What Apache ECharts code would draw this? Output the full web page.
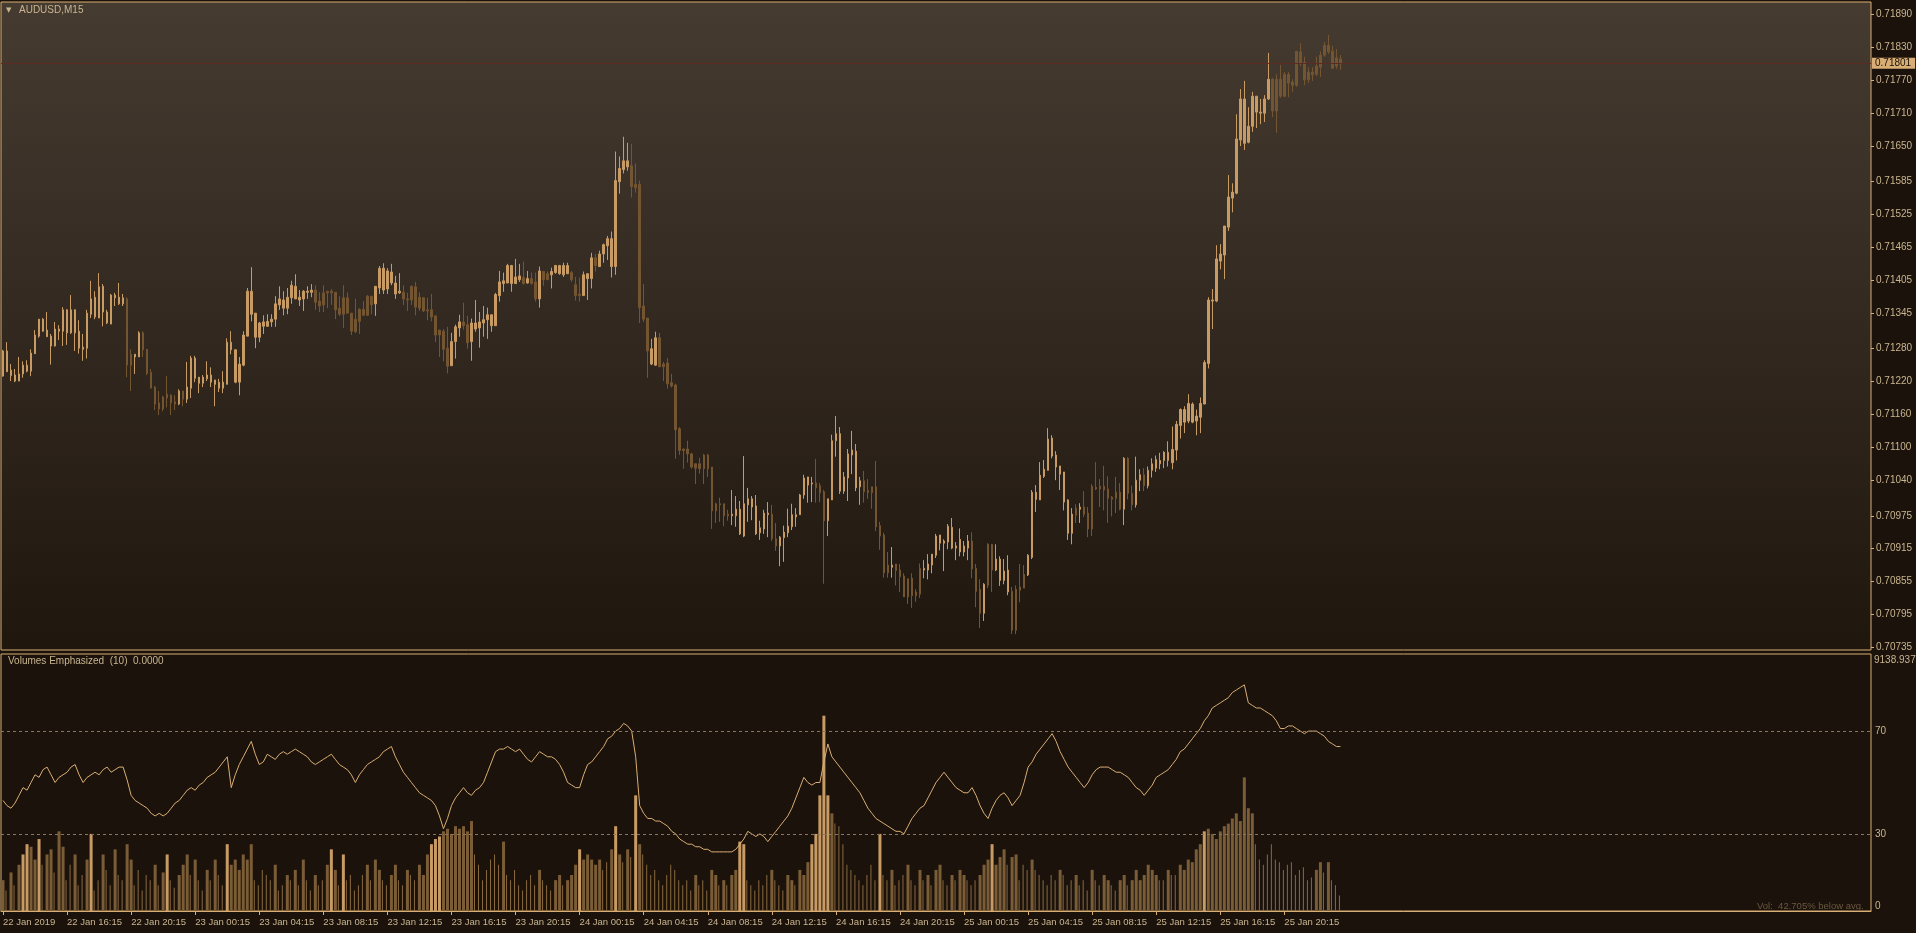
<!DOCTYPE html>
<html><head><meta charset="utf-8">
<script src="https://cdn.jsdelivr.net/npm/echarts@6/dist/echarts.min.js"></script>
<style>html,body{margin:0;padding:0;background:#1b120b;}#c{width:1916px;height:933px;}</style>
</head><body><div id="c"></div>
<script>
const symbolName = 'AUDUSD,M15';
const indicatorTitle = 'Volumes Emphasized  (10)  0.0000';
const volStatus = 'Vol:  42.705% below avg.';
const volTopLabel = '9138.9375';
const tickLabels = ['22 Jan 2019','22 Jan 16:15','22 Jan 20:15','23 Jan 00:15','23 Jan 04:15','23 Jan 08:15','23 Jan 12:15','23 Jan 16:15','23 Jan 20:15','24 Jan 00:15','24 Jan 04:15','24 Jan 08:15','24 Jan 12:15','24 Jan 16:15','24 Jan 20:15','25 Jan 00:15','25 Jan 04:15','25 Jan 08:15','25 Jan 12:15','25 Jan 16:15','25 Jan 20:15'];
const barsPerTick = 16;
const priceTicks = [0.70735,0.70795,0.70855,0.70915,0.70975,0.71040,0.71100,0.71160,0.71220,0.71280,0.71345,0.71405,0.71465,0.71525,0.71585,0.71650,0.71710,0.71770,0.71830,0.71890];
const bidPrice = 0.71801;
const volLevels = [30, 70];
const volTicks = [0, 30, 70];
// prices in 1e-5 units (points)
const open = [
71230,71238,71231,71221,71221,71234,71239,71239,71271,71303,71312,71302,71285,71285,71312,71312,71309,71309,71309,71281,
71279,71281,71343,71338,71336,71347,71327,71325,71373,71362,71362,71371,71270,71265,71265,71309,71279,71237,71210,71181,
71192,71197,71195,71183,71179,71203,71188,71208,71226,71217,71217,71225,71219,71215,71208,71208,71215,71278,71219,71219,
71250,71303,71343,71301,71301,71321,71321,71329,71334,71360,71354,71354,71373,71371,71369,71371,71383,71383,71387,71367,
71382,71385,71385,71383,71354,71373,71373,71345,71334,71352,71352,71376,71376,71362,71391,71387,71389,71400,71380,71382,
71383,71371,71394,71393,71374,71373,71351,71351,71340,71314,71312,71281,
71249,71293,71318,71329,71324,71293,71316,71318,71327,71333,71322,71322,71377,71399,71400,71399,71399,71406,71410,71400,
71408,71402,71371,71421,71417,71415,71419,71417,71415,71417,71419,71397,71380,71377,71408,71408,71446,71430,71453,71468,
71430,71430,71585,71607,71612,71614,71580,71580,71358,71336,71252,71250,71300,71252,71254,71218,71214,71134,71097,71097,
71088,71070,71070,71086,71086,71064,70997,70997,70997,70978,70975,70975,70942,70938,70995,70991,70942,70944,70951,70977,
70978,70933,70920,70935,70944,70955,70973,70977,71013,71031,71033,71035,71030,71019,70966,71004,71112,71020,71020,71044,
71086,71026,71028,71039,71021,71028,71028,70957,70940,70885,70881,
70887,70876,70865,70860,70861,70836,70879,70876,70876,70885,70903,70925,70925,70927,70916,70916,70909,70909,70916,70929,
70879,70841,70797,70923,70923,70876,70857,70857,70836,70837,70841,70845,70868,70867,70899,71005,71004,71047,71058,71084,
71064,71051,71000,70943,70943,70989,70987,70991,70980,71029,71027,71029,71029,71024,71009,71018,71018,70987,71080,
71016,70995,71040,71050,71030,71058,71062,71070,
71076,71076,71072,71095,71140,71146,71148,71146,71148,71155,71179,71253,71367,71367,71440,71451,71502,71555,71564,71661,
71655,71657,71686,71712,71710,71710,71736,71772,71772,71772,71781,71781,71767,71823,71822,71803,71785,71785,71796,71816,
71834,71834,71823,71811,71809];
const high = [
71278,71292,71252,71243,71265,71257,71259,71279,71314,71334,71336,71347,71307,71329,71323,71356,71352,71378,71352,71332,
71307,71351,71404,71385,71418,71398,71351,71380,71382,71400,71380,71374,71279,71270,71312,71312,71279,71243,71212,71203,
71194,71230,71197,71195,71206,71203,71256,71267,71267,71228,71232,71257,71246,71223,71225,71239,71299,71312,71279,71265,
71312,71391,71429,71345,71329,71341,71343,71343,71376,71394,71385,71391,71404,71416,71387,71387,71394,71398,71396,71383,
71396,71385,71389,71383,71376,71396,71383,71345,71371,71354,71367,71378,71376,71394,71431,71436,71427,71435,71413,71418,
71396,71382,71396,71402,71383,71374,71373,71380,71340,71314,71316,71320,
71309,71324,71342,71364,71340,71335,71369,71347,71358,71355,71342,71382,71422,71419,71435,71433,71444,71435,71439,71422,
71419,71419,71430,71422,71421,71428,71433,71433,71437,71437,71422,71411,71410,71421,71417,71455,71453,71459,71472,71486,
71494,71640,71631,71667,71656,71654,71618,71587,71398,71336,71298,71311,71309,71256,71263,71234,71216,71137,71097,71112,
71090,71070,71081,71088,71088,71064,70999,71008,70997,70986,71022,71011,71002,71084,71026,71011,71013,70966,70986,71000,
70995,70962,70938,70957,70988,70997,70989,71015,71050,71046,71046,71079,71035,71022,71006,71123,71157,71137,71055,71097,
71130,71106,71046,71057,71042,71028,71075,70964,70944,70909,70918,
70887,70887,70870,70860,70870,70841,70888,70894,70905,70905,70942,70940,70932,70960,70971,70927,70952,70929,70940,70945,
70887,70859,70852,70925,70923,70923,70901,70896,70903,70845,70848,70887,70885,70905,71022,71031,71073,71077,71135,71122,
71093,71066,71055,71005,70989,70996,70998,71020,70991,71033,71073,71042,71066,71047,71011,71046,71035,71082,
71082,71030,71083,71060,71062,71065,71080,71085,71090,
71093,71111,71138,71148,71171,71175,71197,71182,71169,71191,71259,71374,71389,71469,71471,71504,71597,71582,71708,71754,
71769,71721,71749,71741,71736,71743,71820,71774,71781,71798,71785,71785,71772,71823,71838,71813,71794,71794,71813,71823,
71840,71853,71833,71827,71816];
const low = [
71229,71238,71221,71219,71221,71227,71237,71230,71271,71300,71311,71302,71251,71284,71296,71285,71287,71307,71276,71271,
71258,71262,71336,71334,71336,71321,71325,71325,71358,71360,71358,71228,71203,71234,71265,71265,71232,71208,71168,71159,
71166,71173,71159,71168,71177,71175,71181,71190,71219,71199,71210,71221,71210,71175,71201,71199,71215,71270,71217,71195,
71248,71303,71330,71281,71292,71307,71320,71320,71320,71351,71341,71343,71362,71371,71358,71349,71371,71374,71351,71347,
71347,71354,71360,71334,71340,71318,71345,71305,71309,71307,71341,71341,71343,71340,71380,71380,71380,71396,71371,71380,
71360,71349,71360,71341,71349,71347,71332,71330,71292,71265,71257,71235,
71249,71262,71302,71315,71280,71258,71311,71282,71302,71298,71311,71322,71366,71384,71400,71384,71399,71402,71397,71399,
71397,71366,71355,71395,71406,71390,71417,71415,71411,71417,71402,71368,71366,71377,71369,71390,71421,71430,71437,71442,
71410,71415,71563,71600,71605,71556,71565,71327,71329,71227,71250,71249,71247,71221,71207,71209,71079,71086,71061,71072,
71061,71033,71052,71033,71046,70951,70962,70964,70956,70966,70958,70955,70940,70936,70964,70967,70940,70931,70942,70936,
70929,70911,70883,70891,70936,70949,70955,70977,71006,70999,71000,70999,71000,70851,70938,71004,71083,71015,71015,71002,
71051,71020,70995,70999,71006,70988,70947,70913,70862,70862,70862,
70848,70836,70827,70814,70807,70818,70825,70861,70859,70870,70898,70912,70874,70914,70914,70894,70901,70901,70894,70861,
70808,70770,70783,70843,70836,70874,70847,70850,70830,70759,70759,70817,70843,70865,70896,70982,71004,71044,71058,71080,
71040,71022,70985,70931,70923,70962,70962,70973,70936,70938,71022,70991,70985,70962,70974,70980,70985,70958,
71005,70985,70990,71020,71020,71025,71045,71055,71060,
71062,71065,71060,71076,71116,71126,71144,71144,71122,71126,71179,71244,71316,71365,71425,71407,71495,71529,71562,71650,
71643,71655,71676,71683,71690,71694,71734,71703,71674,71738,71739,71739,71749,71758,71796,71761,71765,71769,71778,71776,
71813,71818,71791,71791,71789];
const close = [
71276,71276,71241,71232,71234,71250,71250,71272,71305,71334,71334,71314,71303,71316,71316,71351,71351,71351,71351,71312,
71283,71345,71371,71374,71393,71394,71347,71378,71378,71374,71373,71250,71250,71270,71309,71278,71235,71208,71179,71170,
71170,71190,71181,71179,71203,71188,71210,71263,71263,71228,71228,71232,71232,71223,71219,71219,71292,71292,71278,71252,
71305,71385,71385,71345,71327,71329,71330,71334,71362,71371,71369,71374,71396,71394,71374,71385,71385,71387,71365,71358,
71360,71382,71382,71351,71343,71343,71345,71312,71311,71330,71341,71341,71360,71394,71427,71427,71422,71420,71400,71385,
71371,71369,71369,71356,71354,71349,71349,71338,71305,71305,71279,71248,
71293,71320,71329,71322,71291,71327,71327,71329,71333,71342,71342,71379,71402,71404,71432,71432,71411,71413,71399,71408,
71399,71371,71422,71406,71406,71421,71432,71432,71432,71432,71406,71377,71377,71415,71417,71446,71432,71453,71470,71481,
71481,71587,71609,71623,71623,71576,71574,71355,71334,71276,71280,71300,71247,71247,71216,71212,71132,71094,71094,71088,
71064,71062,71061,71061,71061,70984,70984,70995,70975,70975,70978,70987,70987,70997,71006,71006,70993,70953,70980,70980,
70933,70920,70936,70945,70956,70977,70977,71013,71044,71046,71035,71026,71017,70966,71006,71112,71125,71125,71046,71088,
71095,71093,71039,71019,71017,71017,70955,70938,70871,70871,70885,
70875,70864,70827,70827,70829,70829,70832,70879,70887,70905,70938,70940,70929,70956,70954,70920,70932,70920,70929,70878,
70837,70797,70850,70848,70876,70896,70896,70874,70876,70766,70766,70839,70843,70903,71018,71018,71049,71060,71115,71117,
71086,71066,71055,71004,70978,70976,70991,70978,70951,70951,71024,71024,71022,71007,71005,71007,70987,71080,
71016,70995,71040,71050,71030,71058,71070,71078,71076,
71091,71091,71096,71142,71169,71169,71180,71179,71157,71180,71255,71369,71369,71444,71453,71504,71557,71566,71663,71736,
71736,71686,71741,71741,71712,71736,71772,71714,71714,71741,71741,71765,71761,71761,71800,71771,71771,71780,71781,71794,
71816,71822,71792,71796,71800];
// indicator pane, scaled 0..100
const volume = [
12,8,15,10,18,22,26,25,20,28, 18,22,24,15,31,25,12,18,22,10, 14,20,30,8,12,22,16,10,24,14,
12,26,20,10,16,8,14,12,18,10, 15,22,12,9,14,18,22,14,20,12, 8,16,12,20,14,10,26,18,20,16,
22,20,26,12,10,16,14,12,18,8, 10,14,12,16,10,20,12,8,14,10, 12,18,24,16,10,22,12,14,8,10,
14,18,12,20,16,12,10,14,18,12, 10,16,14,12,18,14,22,26,28,29, 31,32,30,33,32,33,31,35,22,18,
12,16,20,22,18,27,14,12,16,10, 8,12,14,10,16,12,10,8,12,14, 10,12,14,18,24,20,22,20,18,20,
16,19,24,33,22,19,24,21,45,26, 22,18,14,16,12,10,14,18,16,12, 10,12,8,14,10,12,8,16,14,10,
12,10,14,16,27,26,12,10,8,12, 10,14,16,12,10,8,14,12,10,16, 14,19,26,30,45,76,45,38,34,33,
26,18,16,14,12,10,14,18,12,30, 14,12,16,10,12,14,18,12,10,16, 12,14,10,16,18,12,10,14,12,16,
14,12,10,12,14,18,20,26,18,21, 24,18,21,22,12,18,16,20,16,14, 12,10,14,12,16,14,10,12,14,10,
12,8,16,12,10,14,12,10,8,12, 14,10,12,16,12,14,18,16,14,12, 12,16,14,14,18,16,20,19,24,26,
31,32,30,28,31,33,34,36,38,35, 52,40,38,26,20,18,22,26,20,19, 16,18,19,14,16,17,12,13,16,19,
15,19,12,10,6];
const volumeLine = [
43,41,40,42,45,48,47,50,53,52, 55,56,53,50,52,53,54,56,57,53, 50,52,53,54,53,55,56,54,55,56,
56,51,45,43,42,41,40,38,37,38, 37,38,40,42,43,45,47,48,47,49, 50,52,53,54,56,58,60,48,53,57,
60,63,66,61,57,58,61,60,59,61, 62,61,62,63,62,61,60,58,57,58, 59,60,61,59,57,56,55,53,50,53,
55,57,58,59,60,62,63,64,60,57, 54,52,50,48,46,45,44,43,41,37, 32,36,41,44,46,48,46,45,47,48,
50,54,58,62,63,63,64,63,62,63, 61,59,58,60,62,61,60,60,59,57, 54,50,49,48,48,53,57,58,60,62,
64,67,68,70,71,73,72,70,60,41, 38,36,36,35,35,34,33,31,30,28, 27,26,26,25,25,24,24,23,23,23,
23,23,23,24,26,28,31,30,29,30, 29,27,29,31,33,35,37,40,44,48, 52,50,49,50,50,58,65,60,58,56,
54,52,50,48,46,43,40,38,36,35, 34,33,32,31,31,30,33,36,38,40, 41,44,47,50,52,54,52,50,48,47,
46,46,48,45,41,38,36,40,43,45, 46,44,41,43,45,50,56,58,61,63, 65,67,69,66,62,59,56,54,52,50,
48,50,53,55,56,56,56,55,54,54, 53,52,50,48,47,45,47,49,52,53, 54,55,57,59,62,63,65,67,69,71,
74,76,79,80,81,82,83,85,86,87, 88,81,80,79,79,78,77,76,74,71, 71,72,72,71,70,69,70,70,70,69,
68,66,65,64,64];

const SLOTS = 467;
const slots = []; for (let i = 0; i < SLOTS; i++) slots.push(i);
const candles = open.map((o, i) => [o / 1e5, close[i] / 1e5, low[i] / 1e5, high[i] / 1e5]);

// emphasis rule: compare each volume to the mean of the last 10 bars
const avg10 = volume.map((v, i) => {
  const s = volume.slice(Math.max(0, i - 9), i + 1);
  return s.reduce((a, b) => a + b, 0) / s.length;
});
const wideVol = volume.map((v, i) => (v >= avg10[i] ? v : '-'));
const thinVol = volume.map((v, i) => (v < avg10[i] ? v : '-'));

const FONT = "'Liberation Sans',Arial,sans-serif";
const TXT = '#c9b58f';
const FRAME = '#d9ae74';
const LIGHT = '#c89b64';
const DARK = '#735532';
const tickInt = (idx) => idx % barsPerTick === 0 && idx < open.length;

const chart = echarts.init(document.getElementById('c'), null, {renderer: 'canvas'});
chart.setOption({
  backgroundColor: '#1b120b',
  animation: false,
  grid: [
    {left: 1, top: 2, width: 1870, height: 648, show: true, borderColor: FRAME, borderWidth: 1,
     backgroundColor: new echarts.graphic.LinearGradient(0, 0, 0, 1, [{offset: 0, color: '#453b31'}, {offset: 1, color: '#1f160e'}])},
    {left: 1, top: 654, width: 1870, height: 257, show: true, borderColor: FRAME, borderWidth: 1, backgroundColor: '#1b120b'}
  ],
  xAxis: [
    {type: 'category', gridIndex: 0, data: slots, boundaryGap: true,
     axisLine: {show: false}, axisTick: {show: false}, axisLabel: {show: false}, splitLine: {show: false}},
    {type: 'category', gridIndex: 1, data: slots, boundaryGap: true,
     axisLine: {show: true, lineStyle: {color: FRAME}},
     axisTick: {show: true, alignWithLabel: true, interval: tickInt, length: 4, lineStyle: {color: FRAME}},
     axisLabel: {interval: tickInt, align: 'left', color: TXT, fontFamily: FONT, fontSize: 9.5, margin: 6,
       formatter: (v, idx) => (idx % barsPerTick === 0 ? (tickLabels[idx / barsPerTick] || '') : '')},
     splitLine: {show: false}}
  ],
  yAxis: [
    {type: 'value', gridIndex: 0, position: 'right', min: 0.70730, max: 0.71913,
     splitLine: {show: false}, axisLine: {show: false},
     axisTick: {show: true, customValues: priceTicks, length: 3, lineStyle: {color: FRAME}},
     axisLabel: {customValues: priceTicks, formatter: (v) => v.toFixed(5), color: TXT, fontFamily: FONT, fontSize: 10, margin: 5}},
    {type: 'value', gridIndex: 1, position: 'right', min: 0, max: 100,
     splitLine: {show: false}, axisLine: {show: false}, axisTick: {show: false},
     axisLabel: {customValues: volTicks, color: TXT, fontFamily: FONT, fontSize: 10, margin: 4,
       verticalAlignMinLabel: 'bottom', formatter: (v) => String(v)}}
  ],
  graphic: [
    {type: 'text', left: 6, top: 7, style: {text: '▼', fill: TXT, font: "7px 'DejaVu Sans'"}},
    {type: 'text', left: 19, top: 5, style: {text: symbolName, fill: TXT, font: "10px " + FONT}},
    {type: 'text', left: 8, top: 656, style: {text: indicatorTitle, fill: TXT, font: "10px " + FONT}},
    {type: 'text', left: 1874, top: 655, style: {text: volTopLabel, fill: TXT, font: "10px " + FONT}},
    {type: 'text', left: 1757, top: 901, style: {text: volStatus, fill: '#6b5840', font: "9.5px " + FONT}}
  ],
  series: [
    {type: 'candlestick', xAxisIndex: 0, yAxisIndex: 0, data: candles, barWidth: 2, clip: false,
     itemStyle: {color: LIGHT, color0: DARK, borderColor: LIGHT, borderColor0: DARK, borderWidth: 1},
     markLine: {silent: true, symbol: ['none', 'none'], animation: false, precision: 5,
       data: [{yAxis: bidPrice}],
       lineStyle: {color: '#5e2b22', width: 1, type: 'solid', opacity: 1},
       label: {show: true, position: 'end', formatter: bidPrice.toFixed(5), color: '#1b120b',
         backgroundColor: '#d9ae74', padding: [1, 4, 0, 3], fontFamily: FONT, fontSize: 10, distance: 1}}},
    {type: 'bar', xAxisIndex: 1, yAxisIndex: 1, data: thinVol, barWidth: 1, barGap: '-100%',
     itemStyle: {color: '#8a6a40'}},
    {type: 'bar', xAxisIndex: 1, yAxisIndex: 1, data: wideVol, barWidth: 3, barGap: '-100%',
     itemStyle: {color: (p) => (volume[p.dataIndex] >= 1.5 * avg10[p.dataIndex] ? LIGHT : '#7a5c36')}},
    {type: 'line', xAxisIndex: 1, yAxisIndex: 1, data: volumeLine, symbol: 'none',
     lineStyle: {color: '#d9ae74', width: 1},
     markLine: {silent: true, symbol: ['none', 'none'], animation: false,
       data: volLevels.map((v) => ({yAxis: v})),
       lineStyle: {color: '#8a7660', width: 1, type: [3, 3]}, label: {show: false}}}
  ]
});
</script>
</body></html>
